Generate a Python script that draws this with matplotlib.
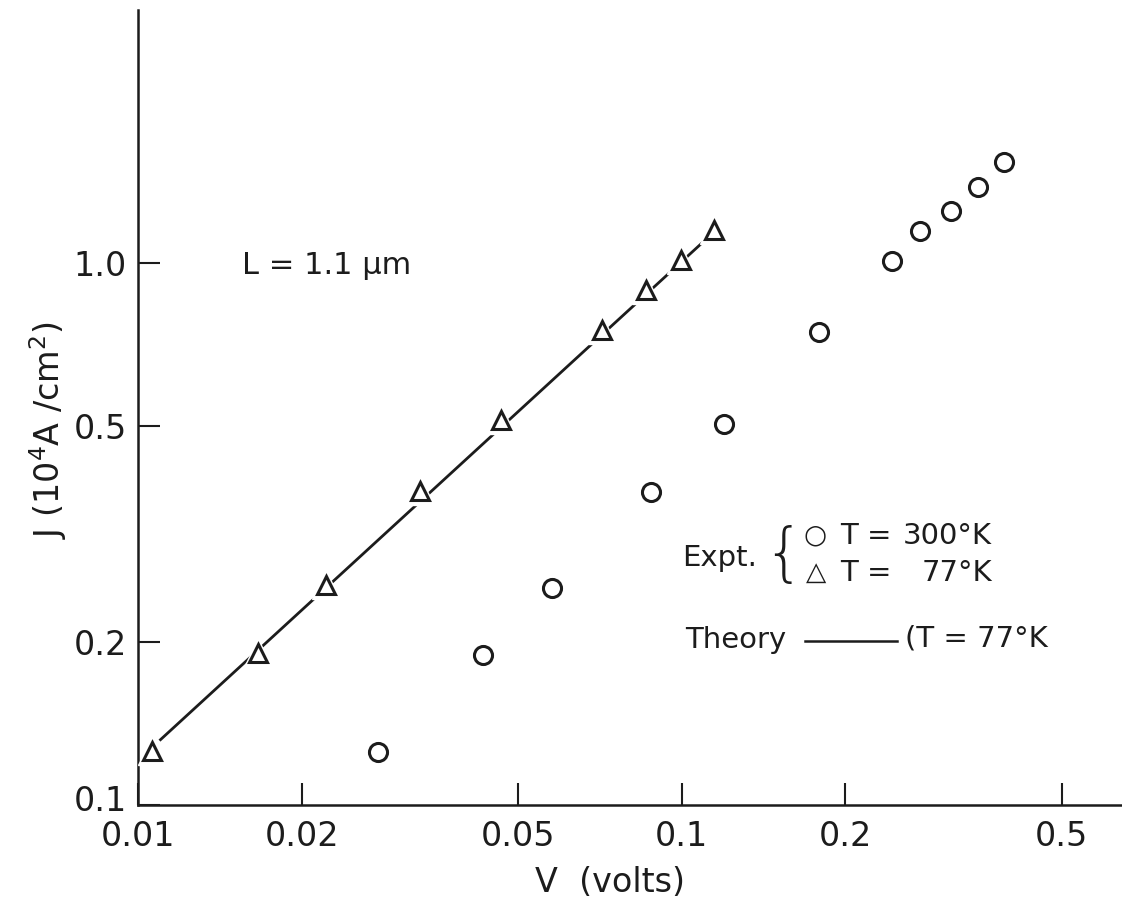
import matplotlib
matplotlib.use("Agg")
import matplotlib.pyplot as plt
from matplotlib.lines import Line2D
from matplotlib.transforms import ScaledTranslation

# ---- data ----
V_300 = [0.0276, 0.0431, 0.0577, 0.0877, 0.1195, 0.1786, 0.244, 0.274, 0.313, 0.350, 0.391]
J_300 = [0.125, 0.189, 0.251, 0.378, 0.505, 0.746, 1.01, 1.146, 1.248, 1.381, 1.536]

V_77 = [0.0106, 0.0166, 0.0222, 0.0330, 0.0465, 0.0713, 0.0859, 0.0996, 0.1145]
J_77 = [0.126, 0.191, 0.255, 0.380, 0.513, 0.752, 0.891, 1.013, 1.15]

V_theory = [0.0110, 0.1145]
J_theory = [0.132, 1.14]

x_ticks = [0.01, 0.02, 0.05, 0.1, 0.2, 0.5]
x_labels = ["0.01", "0.02", "0.05", "0.1", "0.2", "0.5"]
y_ticks = [0.1, 0.2, 0.5, 1.0]
y_labels = ["0.1", "0.2", "0.5", "1.0"]

W, H = 1122, 907
INK = "#1c1c1c"
plt.rcParams["font.family"] = ["DejaVu Sans"]


def fx(px):
    return px / W


def fy(py):
    return 1 - py / H


fig = plt.figure(figsize=(W / 100, H / 100), dpi=100)
ax = fig.add_axes([fx(138), fy(805), fx(1122) - fx(138), fy(10) - fy(805)])
ax.set_xscale("log")
ax.set_yscale("log")
ax.set_xlim(0.01, 0.645)
ax.set_ylim(0.1, 2.93)

for s in ("top", "right"):
    ax.spines[s].set_visible(False)
for s in ("left", "bottom"):
    ax.spines[s].set_linewidth(1.8)
    ax.spines[s].set_color(INK)

ax.set_xticks(x_ticks, x_labels)
ax.set_yticks(y_ticks, y_labels)
ax.minorticks_off()
ax.tick_params(axis="both", direction="in", length=16, width=1.5, colors=INK,
               labelsize=24, labelcolor=INK)
ax.tick_params(axis="x", pad=11)
ax.tick_params(axis="y", pad=8)

# nudge the "0.1" label up a little so it clears "0.01" (as in the reference)
lab01 = ax.get_yticklabels()[0]
lab01.set_transform(lab01.get_transform() + ScaledTranslation(0, 5 / 72, fig.dpi_scale_trans))

# theory line
ax.plot(V_theory, J_theory, "-", color=INK, lw=2.0, zorder=2)
# halos to produce gaps around triangles
ax.plot(V_77, J_77, "^", ms=20, color="white", mec="white", ls="none", zorder=3)
ax.plot(V_77, J_77, "^", ms=13, mfc="white", mec=INK, mew=2.2, ls="none", zorder=4)
ax.plot(V_300, J_300, "o", ms=13, mfc="white", mec=INK, mew=2.2, ls="none", zorder=4)

# axis labels
fig.text(fx(610), fy(882), "V  (volts)", ha="center", va="center", fontsize=24, color=INK)
fig.text(fx(48), fy(430), "J (10$^{4}$A /cm$^{2}$)", ha="center", va="center",
         rotation=90, fontsize=24, color=INK)

# annotations
fig.text(fx(242), fy(265), "L = 1.1 μm", ha="left", va="center", fontsize=22, color=INK)

fig.text(fx(682), fy(558), "Expt.", ha="left", va="center", fontsize=21, color=INK)
fig.text(fx(783), fy(556), "{", ha="center", va="center", fontsize=46, color=INK,
         fontweight="light")
fig.text(fx(815), fy(536), "○", ha="center", va="center", fontsize=19, color=INK)
fig.text(fx(816), fy(573), "△", ha="center", va="center", fontsize=19, color=INK)
fig.text(fx(840), fy(536), "T =", ha="left", va="center", fontsize=21, color=INK)
fig.text(fx(840), fy(573), "T =", ha="left", va="center", fontsize=21, color=INK)
fig.text(fx(992), fy(536), "300°K", ha="right", va="center", fontsize=21, color=INK)
fig.text(fx(992), fy(573), "77°K", ha="right", va="center", fontsize=21, color=INK)

fig.text(fx(685), fy(640), "Theory", ha="left", va="center", fontsize=21, color=INK)
fig.add_artist(Line2D([fx(805), fx(897)], [fy(641), fy(641)], color=INK, lw=1.8,
                      transform=fig.transFigure))
fig.text(fx(905), fy(638), "(T = 77°K", ha="left", va="center", fontsize=21, color=INK)

fig.savefig("out.png", dpi=100, facecolor="white")
